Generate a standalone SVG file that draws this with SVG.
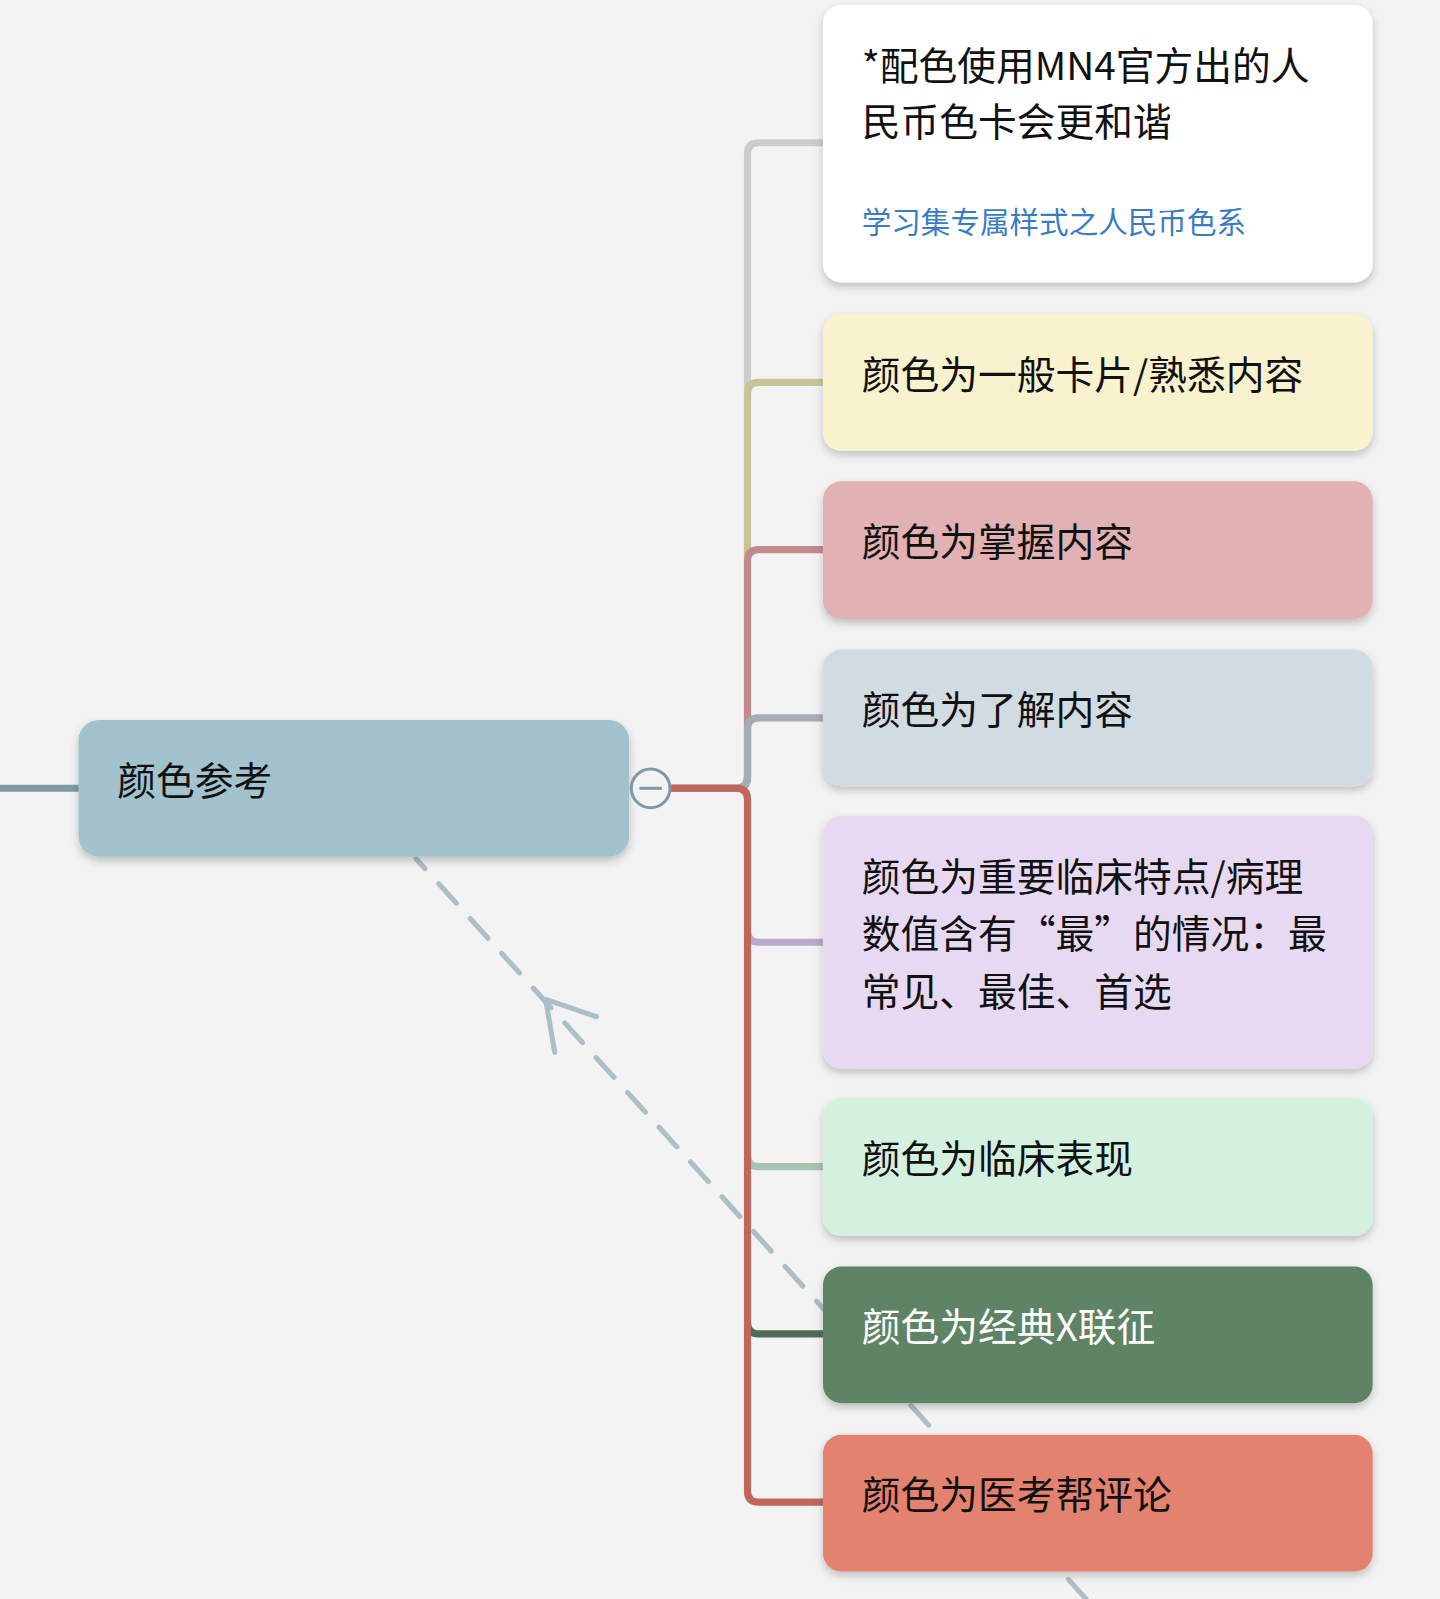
<svg xmlns="http://www.w3.org/2000/svg" width="1440" height="1599" viewBox="0 0 1440 1599">
<defs>
<style>
.t{font-family:"Noto Sans CJK SC","Liberation Sans",sans-serif;font-size:38px;fill:#111}
.c{fill:none;stroke-width:7;stroke-linecap:round}
.n{filter:url(#sh)}
</style>
<filter id="sh" x="-10%" y="-10%" width="120%" height="130%"><feDropShadow dx="0" dy="4" stdDeviation="4" flood-color="#000" flood-opacity="0.22"/></filter>
</defs>
<rect width="1440" height="1599" fill="#f3f3f3"/>
<g transform="scale(1.0198)">
<g id="connectors">
<line x1="0" y1="773" x2="77" y2="773" class="c" stroke="#7f9aa6"/>
<path class="c" stroke="#cccccc" d="M658,773 H722 Q733,773 733,762 V151 Q733,140 744,140 H807"/>
<path class="c" stroke="#c8c49a" d="M658,773 H722 Q733,773 733,762 V386 Q733,375 744,375 H807"/>
<path class="c" stroke="#c18a8d" d="M658,773 H722 Q733,773 733,762 V550 Q733,539 744,539 H807"/>
<path class="c" stroke="#a4adb6" d="M658,773 H722 Q733,773 733,762 V715 Q733,704 744,704 H807"/>
<path class="c" stroke="#bba9c7" d="M733,913 Q733,924 744,924 H807"/>
<path class="c" stroke="#a9c3b0" d="M733,1133 Q733,1144 744,1144 H807"/>
<path class="c" stroke="#4f6b55" d="M733,1297 Q733,1308 744,1308 H807"/>
<path class="c" stroke="#c0665b" d="M658,773 H722 Q733,773 733,784 V1462 Q733,1473 744,1473 H807"/>
<line x1="1065" y1="1568" x2="408" y2="842" stroke="#aebec6" stroke-width="5" stroke-dasharray="26 20" stroke-linecap="round"/>
<polyline points="585,997 535,980 544,1032" fill="none" stroke="#aebec6" stroke-width="5" stroke-linecap="round" stroke-linejoin="round"/>
</g>
<g id="root" class="n"><rect x="77" y="706" width="540" height="134" rx="20" fill="#a2c2cd"/></g>
<text class="t" x="115" y="780">颜色参考</text>
<g id="collapse"><circle cx="638" cy="773" r="19" fill="#f3f3f3" stroke="#7f9aa6" stroke-width="3"/><line x1="627" y1="773" x2="649" y2="773" stroke="#7f9aa6" stroke-width="3"/></g>
<g id="n1"><rect class="n" x="807" y="5" width="539" height="272" rx="18" fill="#ffffff"/>
<text class="t" x="845" y="78">*配色使用MN4官方出的人</text><text class="t" x="845" y="133">民币色卡会更和谐</text>
<text x="845" y="228" font-family="Noto Sans CJK SC,Liberation Sans,sans-serif" font-size="29" fill="#3a7cc4">学习集专属样式之人民币色系</text></g>
<g id="n2"><rect class="n" x="807" y="308" width="539" height="134" rx="18" fill="#f8f2cf"/><text class="t" x="845" y="381">颜色为一般卡片/熟悉内容</text></g>
<g id="n3"><rect class="n" x="807" y="472" width="539" height="135" rx="18" fill="#e2b1b3"/><text class="t" x="845" y="545">颜色为掌握内容</text></g>
<g id="n4"><rect class="n" x="807" y="637" width="539" height="134" rx="18" fill="#d0dbe2"/><text class="t" x="845" y="710">颜色为了解内容</text></g>
<g id="n5"><rect class="n" x="807" y="800" width="539" height="248" rx="18" fill="#e8d9f3"/>
<text class="t" x="845" y="874">颜色为重要临床特点/病理</text><text class="t" x="845" y="930">数值含有“最”的情况：最</text><text class="t" x="845" y="986">常见、最佳、首选</text></g>
<g id="n6"><rect class="n" x="807" y="1077" width="539" height="135" rx="18" fill="#d4f0df"/><text class="t" x="845" y="1150">颜色为临床表现</text></g>
<g id="n7"><rect class="n" x="807" y="1242" width="539" height="134" rx="18" fill="#5f8465"/><text class="t" x="845" y="1315" fill="#ffffff" style="fill:#fff">颜色为经典X联征</text></g>
<g id="n8"><rect class="n" x="807" y="1407" width="539" height="134" rx="18" fill="#e48270"/><text class="t" x="845" y="1480">颜色为医考帮评论</text></g>
</g>
</svg>
